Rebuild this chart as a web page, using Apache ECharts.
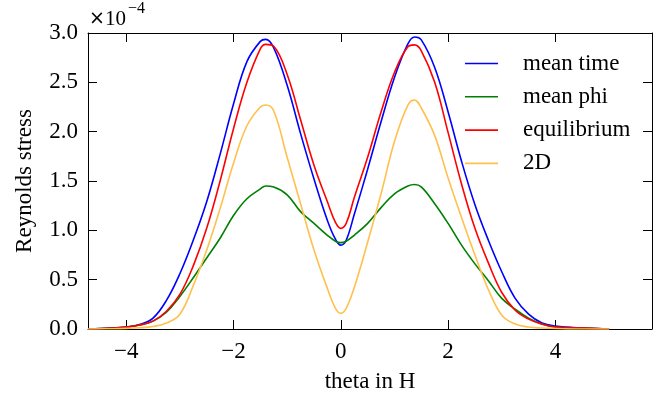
<!DOCTYPE html>
<html>
<head>
<meta charset="utf-8">
<script src="https://cdn.jsdelivr.net/npm/echarts@6/dist/echarts.min.js"></script>
<style>
  html, body { margin: 0; padding: 0; background: #fff; }
  #chart { width: 666px; height: 396px; }
</style>
</head>
<body>
<div id="chart"></div>
<script>
// theta positions shared by all four profiles
const theta = [-4.71, -4.25, -4.0, -3.75, -3.5, -3.25, -3.0, -2.75, -2.5, -2.25, -2.0, -1.75, -1.5, -1.4, -1.25, -1.0, -0.75, -0.5, -0.25, -0.1, 0,
               0.1, 0.25, 0.5, 0.75, 1.0, 1.25, 1.375, 1.5, 1.75, 2.0, 2.25, 2.5, 2.75, 3.0, 3.25, 3.5, 3.75, 4.0, 4.5, 5.0];

// Reynolds stress, in units of 1e-4
const meanTime = [0.0, 0.01, 0.02, 0.045, 0.11, 0.29, 0.56, 0.90, 1.29, 1.77, 2.28, 2.71, 2.915, 2.935, 2.85, 2.47, 1.98, 1.52, 1.10, 0.91, 0.85,
                  0.90, 1.16, 1.62, 2.10, 2.55, 2.89, 2.96, 2.93, 2.65, 2.20, 1.70, 1.26, 0.90, 0.58, 0.31, 0.15, 0.06, 0.03, 0.01, 0.0];
const meanPhi = [0.0, 0.01, 0.02, 0.04, 0.08, 0.17, 0.33, 0.52, 0.72, 0.92, 1.15, 1.32, 1.42, 1.45, 1.44, 1.36, 1.19, 1.07, 0.95, 0.89, 0.875,
                 0.89, 0.95, 1.07, 1.23, 1.37, 1.45, 1.465, 1.44, 1.27, 1.07, 0.85, 0.66, 0.49, 0.31, 0.20, 0.11, 0.05, 0.02, 0.01, 0.0];
const equilibrium = [0.0, 0.01, 0.02, 0.04, 0.08, 0.18, 0.35, 0.64, 1.02, 1.50, 2.03, 2.50, 2.84, 2.885, 2.865, 2.58, 2.12, 1.66, 1.29, 1.08, 1.02,
                     1.07, 1.33, 1.74, 2.20, 2.60, 2.86, 2.88, 2.82, 2.50, 1.99, 1.47, 1.02, 0.67, 0.37, 0.19, 0.10, 0.05, 0.02, 0.01, 0.0];
const twoD = [0.0, 0.003, 0.006, 0.012, 0.025, 0.06, 0.15, 0.44, 0.80, 1.22, 1.68, 2.06, 2.25, 2.27, 2.21, 1.74, 1.27, 0.80, 0.41, 0.21, 0.16,
              0.21, 0.42, 0.88, 1.37, 1.90, 2.27, 2.32, 2.24, 1.96, 1.53, 1.13, 0.75, 0.40, 0.14, 0.05, 0.02, 0.01, 0.005, 0.0, 0.0];

const seriesNames = ['mean time', 'mean phi', 'equilibrium', '2D'];
const seriesColors = ['#0000ff', '#008000', '#ff0000', '#ffc04d'];
const seriesValues = [meanTime, meanPhi, equilibrium, twoD];

const xTicks = [-4, -2, 0, 2, 4];
const xRange = [-4.712, 5.8];
const yRange = [0, 3.0];
const yStep = 0.5;

const FONT = 'Liberation Serif';
const FS = 23;

const fmtX = v => (v < 0 ? '\u2212' + Math.abs(v) : String(v));

const tickStyle = { inside: true, length: 9, lineStyle: { color: '#000', width: 1 } };
const lineStyleAxis = { show: true, onZero: false, lineStyle: { color: '#000', width: 1 } };

const chart = echarts.init(document.getElementById('chart'), null, { renderer: 'canvas' });

chart.setOption({
  animation: false,
  backgroundColor: '#fff',
  textStyle: { fontFamily: FONT },
  title: {
    left: 89, top: 0, padding: 0,
    text: '{m|\u00d7}{a|10}{b|\u22124}',
    textStyle: {
      fontWeight: 'normal',
      rich: {
        m: { fontFamily: 'DejaVu Sans', fontSize: 19, fontWeight: 'normal', color: '#000', padding: [9, 0, 0, 0] },
        a: { fontFamily: FONT, fontSize: 21, fontWeight: 'normal', color: '#000', padding: [9, 0, 0, 0] },
        b: { fontFamily: FONT, fontSize: 16, fontWeight: 'normal', color: '#000', padding: [0, 0, 12, 2] }
      }
    }
  },
  grid: { left: 88, right: 14, top: 33, bottom: 67, containLabel: false, outerBoundsMode: 'none' },
  legend: {
    orient: 'vertical',
    left: 460, top: 47,
    icon: 'rect',
    itemWidth: 33, itemHeight: 1.6, itemGap: 10.3,
    selectedMode: false,
    data: seriesNames,
    textStyle: { fontFamily: FONT, fontSize: FS, color: '#000', lineHeight: 22.5, padding: [0, 0, 0, 20] }
  },
  xAxis: [
    {
      type: 'value', position: 'bottom', min: xRange[0], max: xRange[1],
      name: 'theta in H', nameLocation: 'middle', nameGap: 41,
      nameTextStyle: { fontFamily: FONT, fontSize: FS, color: '#000' },
      axisLine: lineStyleAxis,
      axisTick: Object.assign({ customValues: xTicks }, tickStyle),
      axisLabel: { customValues: xTicks, formatter: fmtX, margin: 11, fontFamily: FONT, fontSize: FS, color: '#000' },
      splitLine: { show: false }
    },
    {
      type: 'value', position: 'top', min: xRange[0], max: xRange[1],
      axisLine: lineStyleAxis,
      axisTick: Object.assign({ customValues: xTicks }, tickStyle),
      axisLabel: { show: false },
      splitLine: { show: false }
    }
  ],
  yAxis: [
    {
      type: 'value', position: 'left', min: yRange[0], max: yRange[1], interval: yStep,
      name: 'Reynolds stress', nameLocation: 'middle', nameGap: 52,
      nameTextStyle: { fontFamily: FONT, fontSize: FS, color: '#000' },
      axisLine: lineStyleAxis,
      axisTick: tickStyle,
      axisLabel: { formatter: v => v.toFixed(1), margin: 10, fontFamily: FONT, fontSize: FS, color: '#000' },
      splitLine: { show: false }
    },
    {
      type: 'value', position: 'right', min: yRange[0], max: yRange[1], interval: yStep,
      axisLine: lineStyleAxis,
      axisTick: tickStyle,
      axisLabel: { show: false },
      splitLine: { show: false }
    }
  ],
  series: seriesNames.map((name, i) => ({
    name,
    type: 'line',
    xAxisIndex: 0, yAxisIndex: 0,
    data: theta.map((t, k) => [t, seriesValues[i][k]]),
    symbol: 'none',
    smooth: 0.4,
    color: seriesColors[i],
    itemStyle: { color: seriesColors[i] },
    lineStyle: { color: seriesColors[i], width: 1.6 },
    z: 2 + i
  }))
});
</script>
</body>
</html>
